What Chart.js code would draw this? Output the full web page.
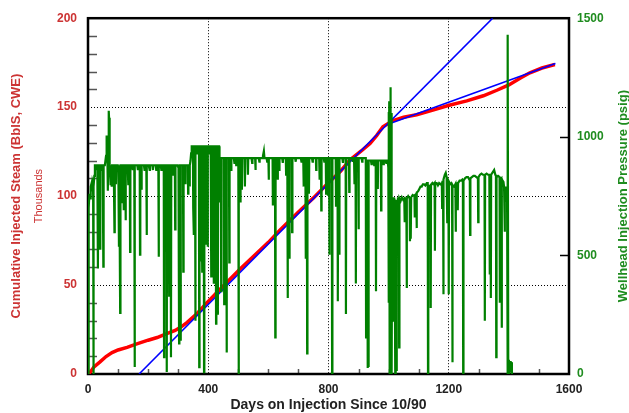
<!DOCTYPE html>
<html lang="en">
<head>
<meta charset="UTF-8" />
<title>Cumulative Injected Steam and Wellhead Pressure</title>
<script src="https://cdn.jsdelivr.net/npm/chart.js"></script>
<style>
	html, body { margin: 0; padding: 0; background: #fff; }
	canvas { display: block; }
</style>
</head>
<body>
<canvas id="injChart" width="629" height="413"></canvas>
<script>
// cumulative steam, thousands of bbl CWE, by day on injection
const steamDays = [0, 10, 20, 40, 60, 80, 100, 130, 160, 200, 230, 260, 290, 310, 330, 360, 395, 450, 506, 550, 600, 639, 700, 750, 794, 840, 872, 910, 938, 960, 981, 1000, 1015, 1050, 1093, 1150, 1198, 1260, 1315, 1360, 1400, 1440, 1470, 1510, 1553];
const steamK = [0, 1.5, 4, 6.8, 9.8, 12, 13.5, 15, 16.8, 19, 20.5, 22.5, 24.5, 26.5, 29, 33.5, 40, 49.5, 59, 66, 74, 81, 91, 99, 106.5, 114, 120.4, 125.5, 129.6, 134, 139, 141, 142.5, 144.3, 145.7, 148.5, 150.9, 153.5, 156.4, 159.5, 162.5, 166.5, 169.3, 172, 174];

// straight-line trends through the steam curve
const fitDays = [170, 1346];
const fitK = [0, 200];
const lateFitDays = [1000, 1555];
const lateFitK = [140.5, 174.5];

// wellhead injection pressure, [day, psig]
const pressure = [
	[0,0],[1,630],[3,700],[5,760],[7,740],[9,790],[11,800],[13,770],[15,810],[17,800],[18,0],[19,790],[21,835],[23,880],[27,880],[29,860],[31,880],[33,445],[34,880],[38,880],[40,528],[41,880],[45,880],[47,860],[49,880],[51,453],[52,880],[56,880],[58,900],[60,920],[62,1005],[64,960],[66,773],[67,900],[69,1110],[70,1080],[71,900],[73,880],[75,800],[76,880],[79,790],[80,880],[84,880],[86,840],[88,598],[89,880],[92,880],[93,800],[94,880],[99,880],
	[101,860],[103,536],[104,880],[107,258],[108,880],[111,880],[112,720],[113,880],[117,880],[119,690],[120,880],[124,880],[125,648],[126,880],[132,880],[134,800],[135,880],[139,880],[140,515],[141,880],[147,880],[149,860],[150,880],[154,880],[155,29],[156,880],[164,880],[166,860],[167,880],[172,880],[173,503],[174,880],[177,880],[178,777],[179,880],[186,880],[188,860],[189,880],[194,880],[195,586],[196,880],
	[202,880],[205,860],[206,880],[214,880],[216,860],[217,880],[225,880],[227,860],[228,880],[234,880],[235,494],[236,880],[242,880],[244,860],[245,880],[252,880],[253,71],[254,880],[261,880],[262,8],[263,880],[269,880],[270,330],[271,880],[275,880],[276,71],[277,880],[282,880],[283,840],[284,880],[289,880],[290,610],[291,880],[297,880],
	[301,870],[303,129],[304,880],[307,880],[308,140],[309,880],[316,880],[317,432],[318,880],[323,880],[324,800],[325,880],[332,880],[333,760],[334,880],[337,880],[338,790],[339,880],[341,900],[343,930],[345,960],[349,960],[350,700],[352,586],[353,960],[356,960],[357,224],[358,960],[362,960],[364,930],[365,960],[369,960],[370,29],[371,960],[374,960],[375,474],[376,960],[379,960],[380,432],[381,960],[385,960],[386,8],[387,960],[391,960],[392,545],[393,960],[397,960],[398,536],[399,960],
	[404,960],[406,930],[407,960],[409,960],[410,411],[411,960],[417,960],[418,380],[419,960],[422,960],[423,930],[424,960],[425,960],[426,212],[427,960],[431,960],[432,250],[433,960],[436,960],[437,723],[438,915],[442,910],[443,349],[444,910],[452,910],[453,295],[454,910],[460,910],[461,91],[462,910],[469,910],[470,470],[471,910],[475,910],[476,860],[477,910],[485,910],[487,890],[488,910],[492,910],[493,880],[494,910],[500,910],
	[501,0],[502,910],[506,910],[507,723],[508,910],[511,910],[512,777],[513,910],[521,910],[522,790],[523,910],[531,910],[532,840],[533,910],[544,910],[546,890],[547,910],[556,910],[557,860],[558,910],[568,910],[570,895],[571,910],[580,910],[582,920],[585,940],[587,910],[594,910],[596,895],[597,910],[600,910],
	[601,819],[602,910],[614,910],[615,710],[616,910],[622,910],[623,154],[624,910],[630,910],[631,819],[632,910],[635,910],[636,860],[637,910],[646,910],[648,890],[649,910],[658,910],[659,840],[660,910],[663,910],[664,320],[665,910],[669,910],[670,486],[671,910],[678,910],[679,598],[680,910],[689,910],[691,895],[692,910],[700,910],
	[708,910],[710,895],[711,910],[716,910],[717,790],[718,910],[723,910],[724,486],[725,910],[728,910],[729,87],[730,910],[734,910],[735,760],[736,910],[745,910],[747,895],[748,910],[758,910],[759,860],[760,910],[769,910],[770,819],[771,910],[775,910],[776,690],[777,910],[784,910],[786,895],[787,910],[791,910],[792,760],[793,910],[797,910],
	[798,752],[799,910],[802,910],[803,503],[804,910],[811,910],[812,0],[813,910],[824,910],[825,710],[826,910],[830,910],[831,307],[832,910],[835,910],[836,503],[837,910],[846,910],[848,890],[849,910],[857,910],[858,253],[859,910],[868,910],[869,768],[870,910],[879,910],[881,895],[882,910],[885,910],[886,800],[887,910],[890,910],[891,382],[892,910],[899,910],
	[900,610],[901,910],[910,910],[912,895],[913,910],[924,910],[925,154],[926,900],[929,900],[930,25],[931,900],[932,900],[933,30],[934,900],[941,900],[943,885],[944,900],[950,900],[952,880],[953,900],[957,900],[958,349],[959,900],[963,900],[964,780],[965,900],[974,900],[975,690],[976,900],[981,900],[983,885],[984,900],[990,900],[992,890],[993,900],[997,900],
	[999,870],[1000,1105],[1001,300],[1002,1150],[1003,0],[1004,1000],[1005,600],[1006,1209],[1007,750],[1008,112],[1009,1100],[1010,700],[1011,0],[1012,735],[1014,220],[1015,740],[1018,740],[1019,480],[1020,740],[1022,0],[1023,560],[1024,735],[1026,17],[1027,735],[1029,700],[1031,740],[1034,740],[1035,112],[1036,740],[1040,730],[1044,745],[1048,735],[1052,740],[1053,640],[1054,740],[1059,740],[1060,363],[1061,740],[1065,750],[1070,740],[1071,560],[1072,745],[1073,745],[1074,570],[1075,745],[1080,755],[1086,750],[1087,660],[1088,755],[1092,760],[1093,615],[1094,765],[1098,770],
	[1102,780],[1106,790],[1110,790],[1114,800],[1118,800],[1122,795],[1127,805],[1130,805],[1131,0],[1132,795],[1136,790],[1139,795],[1140,278],[1141,795],[1146,805],[1150,800],[1153,805],[1154,520],[1155,805],[1160,805],[1164,795],[1168,805],[1172,800],[1177,805],[1178,700],[1179,810],[1181,810],[1182,336],[1183,820],[1187,840],[1190,848],[1193,830],[1195,640],[1196,820],[1199,810],
	[1200,336],[1201,810],[1205,800],[1209,805],[1211,800],[1212,50],[1213,795],[1218,790],[1222,800],[1223,600],[1224,800],[1229,805],[1230,690],[1231,805],[1236,815],[1241,815],[1245,820],[1247,815],[1248,0],[1249,815],[1254,825],[1259,830],[1264,830],[1268,820],[1270,825],[1271,586],[1272,825],[1277,830],[1282,835],[1287,835],[1292,830],[1297,825],[1298,640],[1299,830],
	[1304,840],[1309,845],[1314,840],[1319,840],[1320,224],[1321,840],[1326,845],[1331,840],[1335,840],[1336,420],[1337,840],[1339,840],[1340,320],[1341,840],[1346,850],[1351,860],[1355,840],[1357,835],[1358,71],[1359,830],[1364,835],[1369,830],[1370,300],[1371,820],[1375,825],[1376,195],[1377,820],[1382,810],[1384,790],[1386,600],[1387,780],[1389,760],[1391,790],[1393,730],[1394,760],[1395,0],[1397,1430],[1398,0],[1400,60],[1402,5],[1404,55],[1406,10],[1408,50],[1410,0]
];

const dayTicks = [0, 400, 800, 1200, 1600];
const steamTicks = [0, 50, 100, 150, 200];
const psiTicks = [0, 500, 1000, 1500];

const RED = '#ff0000';
const BLUE = '#0000ff';
const GREEN = '#008000';
const RED_TEXT = '#cc3333';
const GREEN_TEXT = '#1f8c1f';
const FONT = "'Liberation Sans', Arial, sans-serif";

function points(xs, ys) {
	return xs.map((x, i) => ({ x: x, y: ys[i] }));
}

// no grid line on the frame edges
function innerGrid(first, last) {
	return (c) => (c.tick && (c.tick.value === first || c.tick.value === last)) ? 'rgba(0,0,0,0)' : '#000';
}

const plain = (v) => String(v);

const frame = {
	id: 'frame',
	beforeDatasetsDraw(chart) {
		const { ctx, chartArea: a, scales } = chart;
		ctx.save();
		// small inward ticks
		ctx.strokeStyle = '#555';
		ctx.lineWidth = 1.5;
		ctx.beginPath();
		for (let v = 10; v < 200; v += 10) {
			if (v % 50 === 0) continue;
			const y = Math.round(scales.y.getPixelForValue(v)) + 0.5;
			ctx.moveTo(a.left, y);
			ctx.lineTo(a.left + 9, y);
		}
		for (let d = 100; d < 1600; d += 100) {
			if (d % 400 === 0) continue;
			const x = Math.round(scales.x.getPixelForValue(d)) + 0.5;
			ctx.moveTo(x, a.bottom);
			ctx.lineTo(x, a.bottom - 5);
		}
		ctx.stroke();
		ctx.strokeStyle = '#000';
		ctx.beginPath();
		[500, 1000].forEach((v) => {
			const y = Math.round(scales.y2.getPixelForValue(v)) + 0.5;
			ctx.moveTo(a.right, y);
			ctx.lineTo(a.right - 9, y);
		});
		ctx.stroke();
		ctx.lineWidth = 2.5;
		ctx.strokeRect(a.left, a.top, a.right - a.left, a.bottom - a.top);
		ctx.restore();
	},
	afterDraw(chart) {
		const { ctx, chartArea: a } = chart;
		const midY = (a.top + a.bottom) / 2;
		ctx.save();
		ctx.textAlign = 'center';
		ctx.textBaseline = 'middle';
		ctx.fillStyle = '#222';
		ctx.font = 'bold 14px ' + FONT;
		ctx.fillText('Days on Injection Since 10/90', (a.left + a.right) / 2, 405);

		ctx.save();
		ctx.translate(16, midY);
		ctx.rotate(-Math.PI / 2);
		ctx.fillStyle = RED_TEXT;
		ctx.font = 'bold 13px ' + FONT;
		ctx.fillText('Cumulative Injected Steam (BblS, CWE)', 0, 0);
		ctx.font = '11px ' + FONT;
		ctx.fillText('Thousands', 0, 23);
		ctx.restore();

		ctx.translate(623, midY);
		ctx.rotate(-Math.PI / 2);
		ctx.fillStyle = GREEN_TEXT;
		ctx.font = 'bold 13px ' + FONT;
		ctx.fillText('Wellhead Injection Pressure (psig)', 0, 0);
		ctx.restore();
	}
};

const tickFont = { family: FONT, size: 12, weight: 'bold' };

new Chart(document.getElementById('injChart'), {
	type: 'line',
	data: {
		datasets: [
			{
				label: 'Wellhead Injection Pressure',
				data: pressure.map((p) => ({ x: p[0], y: p[1] })),
				yAxisID: 'y2',
				borderColor: GREEN,
				borderWidth: 2.2,
				pointRadius: 0,
				tension: 0
			},
			{
				label: 'Trend',
				data: points(fitDays, fitK),
				yAxisID: 'y',
				borderColor: BLUE,
				borderWidth: 1.6,
				pointRadius: 0
			},
			{
				label: 'Late trend',
				data: points(lateFitDays, lateFitK),
				yAxisID: 'y',
				borderColor: BLUE,
				borderWidth: 1.6,
				pointRadius: 0
			},
			{
				label: 'Cumulative Injected Steam',
				data: points(steamDays, steamK),
				yAxisID: 'y',
				borderColor: RED,
				borderWidth: 3.5,
				pointRadius: 0,
				tension: 0
			}
		]
	},
	options: {
		responsive: false,
		animation: false,
		events: [],
		layout: { padding: { top: 13, left: 0, right: 0, bottom: 0 } },
		plugins: {
			legend: { display: false },
			tooltip: { enabled: false }
		},
		scales: {
			x: {
				type: 'linear',
				min: 0,
				max: 1600,
				afterBuildTicks: (s) => { s.ticks = dayTicks.map((v) => ({ value: v })); },
				afterFit: (s) => { s.height = 39; },
				grid: { color: innerGrid(0, 1600), lineWidth: 1, drawTicks: false },
				border: { display: false, dash: [1, 2] },
				ticks: { color: '#222', font: tickFont, padding: 8, maxRotation: 0, autoSkip: false, callback: plain }
			},
			y: {
				position: 'left',
				min: 0,
				max: 200,
				afterBuildTicks: (s) => { s.ticks = steamTicks.map((v) => ({ value: v })); },
				afterFit: (s) => { s.width = 88; },
				grid: { color: innerGrid(0, 200), lineWidth: 1, drawTicks: false },
				border: { display: false, dash: [1, 2] },
				ticks: { color: RED_TEXT, font: tickFont, padding: 11, callback: plain }
			},
			y2: {
				position: 'right',
				min: 0,
				max: 1500,
				afterBuildTicks: (s) => { s.ticks = psiTicks.map((v) => ({ value: v })); },
				afterFit: (s) => { s.width = 60; },
				grid: { display: false, drawTicks: false },
				border: { display: false },
				ticks: { color: GREEN_TEXT, font: tickFont, padding: 8, callback: plain }
			}
		}
	},
	plugins: [frame]
});
</script>
</body>
</html>
